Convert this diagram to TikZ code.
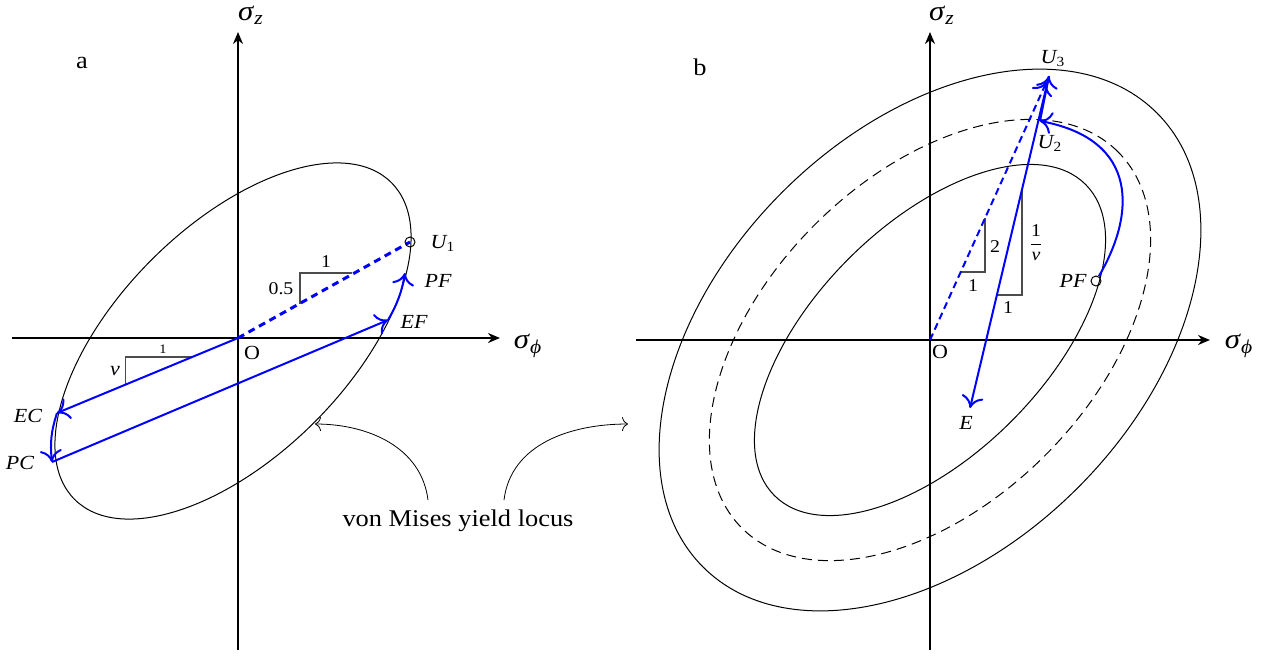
\documentclass[tikz,border=0pt]{standalone}
\usepackage{amsmath}
\usepackage{fontspec}
\setmainfont{Liberation Serif}[FakeStretch=1.1]
\usetikzlibrary{arrows.meta}
\newcommand\mysig[1]{\textit{σ}$_{\textit{#1}}$}
\begin{document}
\begin{tikzpicture}[x=0.5pt,y=0.5pt,
  axis/.style={line width=1pt,-{Stealth[length=6pt,width=5pt]}},
  locus/.style={line width=0.5pt},
  locusdash/.style={line width=0.5pt,dash pattern=on 5pt off 3pt},
  blueline/.style={blue,line width=1pt,-{To[length=6pt,width=11pt]}},
  bluedashA/.style={blue,line width=1.5pt,dash pattern=on 3.5pt off 2.5pt},
  bluedashB/.style={blue,line width=1pt,dash pattern=on 3.5pt off 2.2pt,-{To[length=6pt,width=11pt]}},
  tri/.style={black!70,line width=0.6pt},
  thinarrow/.style={line width=0.4pt,-{To[length=3pt,width=7pt]}},
  ax/.style={font=\fontsize{14}{16}\selectfont},
  panel/.style={font=\fontsize{12}{14}\selectfont},
  lbl/.style={font=\fontsize{10}{12}\selectfont\itshape},
  num/.style={font=\fontsize{9}{11}\selectfont},
  small/.style={font=\fontsize{6.5}{7}\selectfont},
  ringmark/.style={circle,draw,line width=0.5pt,inner sep=0pt,minimum size=5pt}]
\useasboundingbox (0,0) rectangle (1265,-655);

% ---------------- panel a ----------------
\coordinate (OA) at (238,-338);
\coordinate (axAL) at (12,-338);
\coordinate (axAR) at (500,-338);
\coordinate (axAB) at (238,-650);
\coordinate (axAT) at (238,-32);
\coordinate (U1) at (410,-242);
\coordinate (EC) at (57,-413);
\coordinate (PC) at (52,-462);
\coordinate (EF) at (388,-320);
\coordinate (PFa) at (405,-273);

\draw[locus,rotate around={45:(233,-341)}] (233,-341) ellipse [x radius=224,y radius=115];
\draw[axis] (axAL) -- (axAR);
\draw[axis] (axAB) -- (axAT);

\draw[tri] (300,-304) -- (300,-273) -- (352,-273);
\draw[tri] (125.7,-384.5) -- (125.7,-357) -- (191.7,-357);

\draw[bluedashA] (OA) -- (U1);
\draw[blueline] (OA) -- (EC);
\draw[blueline] (EC) to[bend right=12] (PC);
\draw[blueline] (PC) -- (EF);
\draw[blueline] (EF) to[bend right=10] (PFa);
\node[ringmark] (U1c) at (U1) {};

\node[ax] (szA) at (251,-15) {\mysig{z}};
\node[ax] (spA) at (528,-346) {\mysig{ϕ}};
\node[panel] (la) at (82,-63) {a};
\node[font=\fontsize{10}{11}\selectfont] (oA) at (252,-353) {O};
\node[lbl] (lU1) at (443,-243) {U\textsubscript{\upshape 1}};
\node[lbl] (lPFa) at (438,-281) {PF};
\node[lbl] (lEF) at (414,-322) {EF};
\node[lbl] (lEC) at (28,-416) {EC};
\node[lbl] (lPC) at (20,-463) {PC};
\node[num] (n05) at (281,-289) {0.5};
\node[num] (n1a) at (326,-262) {1};
\node[small] (n1b) at (163,-349) {1};
\node[lbl] (nnu) at (115,-371) {ν};

% annotation
\node[font=\fontsize{12}{14}\selectfont] (vm) at (458,-521) {von Mises yield locus};
\coordinate (vmL) at (428,-500);
\coordinate (vmR) at (504,-500);
\coordinate (annL) at (315,-424);
\coordinate (annR) at (628,-424);
\draw[thinarrow] (vmL) to[out=97,in=0] (annL);
\draw[thinarrow] (vmR) to[out=83,in=180] (annR);

% ---------------- panel b ----------------
\coordinate (OB) at (930,-340);
\coordinate (axBL) at (636,-340);
\coordinate (axBR) at (1210,-340);
\coordinate (axBB) at (930,-650);
\coordinate (axBT) at (930,-32);
\coordinate (U3) at (1049,-76);
\coordinate (U2) at (1040,-121);
\coordinate (E) at (970,-408);
\coordinate (PFb) at (1096,-281);

\draw[locus,rotate around={45:(930,-340)}] (930,-340) ellipse [x radius=220,y radius=115];
\draw[locusdash,rotate around={45:(930,-340)}] (930,-340) ellipse [x radius=266,y radius=163];
\draw[locus,rotate around={45:(930,-340)}] (930,-340) ellipse [x radius=321,y radius=209];
\draw[axis] (axBL) -- (axBR);
\draw[axis] (axBB) -- (axBT);

\draw[tri] (985,-218) -- (985,-272) -- (960.5,-272);
\draw[tri] (1022,-189) -- (1022,-295) -- (997,-295);

\draw[bluedashB] (OB) -- (1046.5,-82);
\draw[blueline] (U2) -- (U3);
\draw[blueline] (U3) -- (E);
\node[ringmark] (PFc) at (PFb) {};
\draw[blueline] (PFc) .. controls (1135,-215) and (1140,-140) .. (U2);

\node[ax] (szB) at (942,-15) {\mysig{z}};
\node[ax] (spB) at (1239,-346) {\mysig{ϕ}};
\node[panel] (lb) at (700,-67) {b};
\node[font=\fontsize{10}{11}\selectfont] (oB) at (940,-352) {O};
\node[lbl] (lU3) at (1053,-59) {U\textsubscript{\upshape 3}};
\node[lbl] (lU2) at (1050,-143) {U\textsubscript{\upshape 2}};
\node[lbl] (lPFb) at (1073,-281) {PF};
\node[lbl] (lE) at (966,-423) {E};
\node[num] (n2) at (995,-247) {2};
\node[num] (n1c) at (973,-286) {1};
\node[num] (nfrac) at (1036,-243) {$\displaystyle\frac{\mbox{1}}{\mbox{\itshape ν}}$};
\node[num] (n1d) at (1008,-308) {1};
\end{tikzpicture}
\end{document}
